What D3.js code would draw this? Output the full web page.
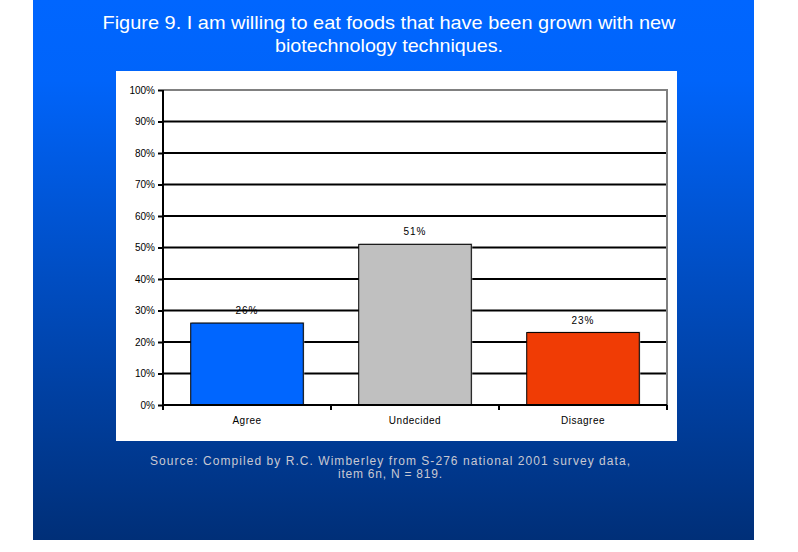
<!DOCTYPE html>
<html><head><meta charset="utf-8">
<script src="https://cdn.jsdelivr.net/npm/d3@7/dist/d3.min.js"></script>
<style>body{margin:0;background:#fff;}svg{display:block;}</style>
</head><body>
<svg id="c" width="798" height="552"></svg>
<script>
const categories = ["Agree", "Undecided", "Disagree"];
const values = [26, 51, 23];
const barColors = ["#0066FF", "#C0C0C0", "#F03C05"];
const yTicks = [0, 10, 20, 30, 40, 50, 60, 70, 80, 90, 100];
const titleLines = ["Figure 9. I am willing to eat foods that have been grown with new", "biotechnology techniques."];
const sourceLines = ["Source:  Compiled by R.C. Wimberley from S-276 national 2001 survey data,", "item 6n, N = 819."];

(function(){
const svg = d3.select("#c");
const defs = svg.append("defs");
const g = defs.append("linearGradient").attr("id","bg").attr("x1",0).attr("y1",0).attr("x2",0).attr("y2",1);
g.append("stop").attr("offset","0%").attr("stop-color","#0066FF");
g.append("stop").attr("offset","15%").attr("stop-color","#0064FA");
g.append("stop").attr("offset","100%").attr("stop-color","#002F78");

svg.append("rect").attr("x",33).attr("y",0).attr("width",721).attr("height",540).attr("fill","url(#bg)");

const titleW=[573, 228];
svg.selectAll("text.title").data(titleLines).enter().append("text")
  .attr("class","title").attr("x",389).attr("y",(d,i)=>29+i*23)
  .attr("text-anchor","middle").attr("fill","#fff")
  .attr("textLength",(d,i)=>titleW[i]).attr("lengthAdjust","spacingAndGlyphs")
  .attr("font-family","Liberation Sans, Arial, sans-serif").attr("font-size",19).text(d=>d);

svg.append("rect").attr("x",116).attr("y",71).attr("width",561).attr("height",370).attr("fill","#fff");

const pl=163, pr=667, pt=90, pb=405;
const x = d3.scaleBand().domain(categories).range([pl,pr]).paddingInner(0.33).paddingOuter(0.165);
const y = d3.scaleLinear().domain([0,100]).range([pb,pt]);

const bars = svg.append("g");
categories.forEach((c,i)=>{
  bars.append("text").attr("x",x(c)+x.bandwidth()/2).attr("y",y(values[i])-9)
    .attr("text-anchor","middle").attr("font-family","Liberation Sans, Arial, sans-serif").attr("font-size",10)
    .attr("letter-spacing",1)
    .attr("fill","#000").text(values[i]+"%");
});

svg.append("g").selectAll("line").data(yTicks.filter(t=>t>0&&t<100)).enter().append("line")
  .attr("x1",pl).attr("x2",pr).attr("y1",d=>y(d)).attr("y2",d=>y(d))
  .attr("stroke","#000").attr("stroke-width",2);
svg.append("path").attr("d",`M${pl},${y(100)}H${pr}V${pb}`).attr("fill","none").attr("stroke","#808080").attr("stroke-width",2);

categories.forEach((c,i)=>{
  bars.append("rect").attr("x",x(c)+1).attr("y",y(values[i])-1).attr("width",x.bandwidth()).attr("height",pb-y(values[i])+1)
    .attr("fill","#c8c8c8");
  bars.append("rect").attr("x",x(c)).attr("y",y(values[i])).attr("width",x.bandwidth()).attr("height",pb-y(values[i]))
    .attr("fill",barColors[i]).attr("stroke","#000").attr("stroke-width",1);
});
bars.raise();

const ya = d3.axisLeft(y).tickValues(yTicks).tickFormat(d=>d+"%").tickSize(5).tickPadding(3);
const yg = svg.append("g").attr("transform",`translate(${pl},0)`).call(ya);
yg.select(".domain").attr("stroke","#000").attr("stroke-width",2).attr("d",`M0,${pt}V${pb}`);
yg.selectAll(".tick line").attr("stroke","#000").attr("stroke-width",2);
yg.selectAll("text").attr("font-family","Liberation Sans, Arial, sans-serif").attr("font-size",10).attr("fill","#000");

const xg = svg.append("g").attr("transform",`translate(0,${pb})`);
xg.append("line").attr("x1",pl).attr("x2",pr).attr("y1",0).attr("y2",0).attr("stroke","#000").attr("stroke-width",2);
const bounds=[pl, ...categories.slice(1).map(c=>x(c)-x.step()*x.paddingInner()/2), pr];
xg.selectAll("line.tk").data(bounds).enter().append("line").attr("class","tk")
  .attr("x1",d=>d).attr("x2",d=>d).attr("y1",0).attr("y2",5).attr("stroke","#000").attr("stroke-width",2);
xg.selectAll("text").data(categories).enter().append("text")
  .attr("x",d=>x(d)+x.bandwidth()/2).attr("y",19).attr("text-anchor","middle")
  .attr("letter-spacing",0.5)
  .attr("font-family","Liberation Sans, Arial, sans-serif").attr("font-size",10).attr("fill","#000").text(d=>d);

const srcW=[480, 104];
svg.selectAll("text.src").data(sourceLines).enter().append("text")
  .attr("class","src").attr("x",390).attr("y",(d,i)=>465+i*13)
  .attr("text-anchor","middle").attr("fill","#C8C8D2")
  .attr("textLength",(d,i)=>srcW[i]).attr("lengthAdjust","spacing")
  .attr("font-family","Liberation Sans, Arial, sans-serif").attr("font-size",12).text(d=>d);
})();
</script>
</body></html>
